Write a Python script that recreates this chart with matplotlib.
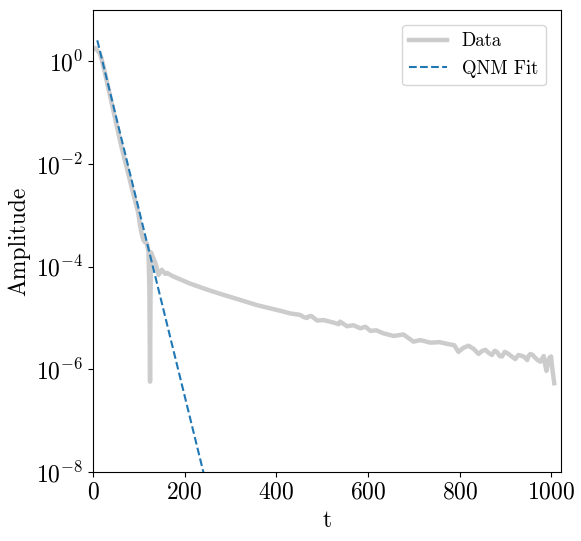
import matplotlib
matplotlib.use("Agg")
import numpy as np
import matplotlib.pyplot as plt

plt.rcParams["font.family"] = "serif"
plt.rcParams["font.serif"] = ["cmr10"]
plt.rcParams["mathtext.fontset"] = "cm"
plt.rcParams["axes.formatter.use_mathtext"] = True

# waveform amplitude (t, log10 amplitude)
data_t = [3, 5, 9, 15, 19, 26, 33, 45, 62, 75, 84, 92, 99, 102, 106, 110,
          113, 117.6, 121, 123, 124.5, 125.5, 126.5, 129, 132, 136, 143, 150,
          157.7, 161, 175, 191, 212, 250, 285, 300, 358, 409, 430, 452, 459,
          467, 470, 476, 489, 503, 525, 536, 539, 554, 568, 583, 594, 605,
          618, 634, 656, 677, 699, 714, 736, 756, 776, 788, 797, 808, 819,
          830, 841, 849, 856, 863, 870, 876, 881, 887, 892, 898, 903, 912,
          921, 928, 936, 941, 947, 950, 954, 959, 965, 970, 976, 979, 983,
          986, 989, 992, 994, 997, 999, 1002, 1006]
data_log = [0.25, 0.26, 0.22, 0.15, 0.04, -0.22, -0.5, -0.98, -1.66, -2.12,
            -2.44, -2.72, -2.96, -3.16, -3.35, -3.48, -3.52, -3.55, -3.7,
            -4.4, -6.24, -4.6, -3.72, -3.78, -3.84, -3.92, -4.16, -4.06,
            -4.14, -4.12, -4.19, -4.25, -4.33, -4.45, -4.55, -4.59, -4.75,
            -4.86, -4.91, -4.94, -4.98, -5.0, -4.97, -4.96, -5.05, -5.04,
            -5.09, -5.12, -5.07, -5.16, -5.14, -5.2, -5.17, -5.25, -5.24,
            -5.3, -5.35, -5.32, -5.46, -5.43, -5.48, -5.47, -5.51, -5.53,
            -5.66, -5.58, -5.54, -5.6, -5.7, -5.64, -5.62, -5.68, -5.72,
            -5.64, -5.66, -5.74, -5.75, -5.66, -5.68, -5.74, -5.8, -5.72,
            -5.74, -5.76, -5.82, -5.74, -5.7, -5.72, -5.78, -5.82, -5.85,
            -5.8, -5.74, -5.9, -6.03, -5.9, -5.8, -5.76, -5.75, -6.0, -6.27]

# dashed QNM fit, two points in log space
fit_t = [9.4, 260]
fit_log = [0.41, -8.7]

amp = 10.0 ** np.array(data_log)
fit_amp = 10.0 ** np.array(fit_log)

fig = plt.figure(figsize=(5.81, 5.41), dpi=100)
ax = fig.add_axes([0.160, 0.1275, 0.805, 0.854])

ax.plot(data_t, amp, color="#cccccc", lw=3.2, label="Data")
ax.plot(fit_t, fit_amp, "--", color="#1f77b4", lw=1.5, label="QNM Fit")

ax.set_yscale("log")
ax.set_xlim(0, 1020)
ax.set_ylim(1e-8, 1e1)
ax.set_yticks([1e-8, 1e-6, 1e-4, 1e-2, 1e0])
ax.minorticks_off()
ax.tick_params(labelsize=17)
ax.set_xlabel("t", fontsize=17)
ax.set_ylabel("Amplitude", fontsize=17)
ax.legend(loc="upper right", fontsize=13.5, borderaxespad=0.8)

fig.savefig("out.png", dpi=100)
